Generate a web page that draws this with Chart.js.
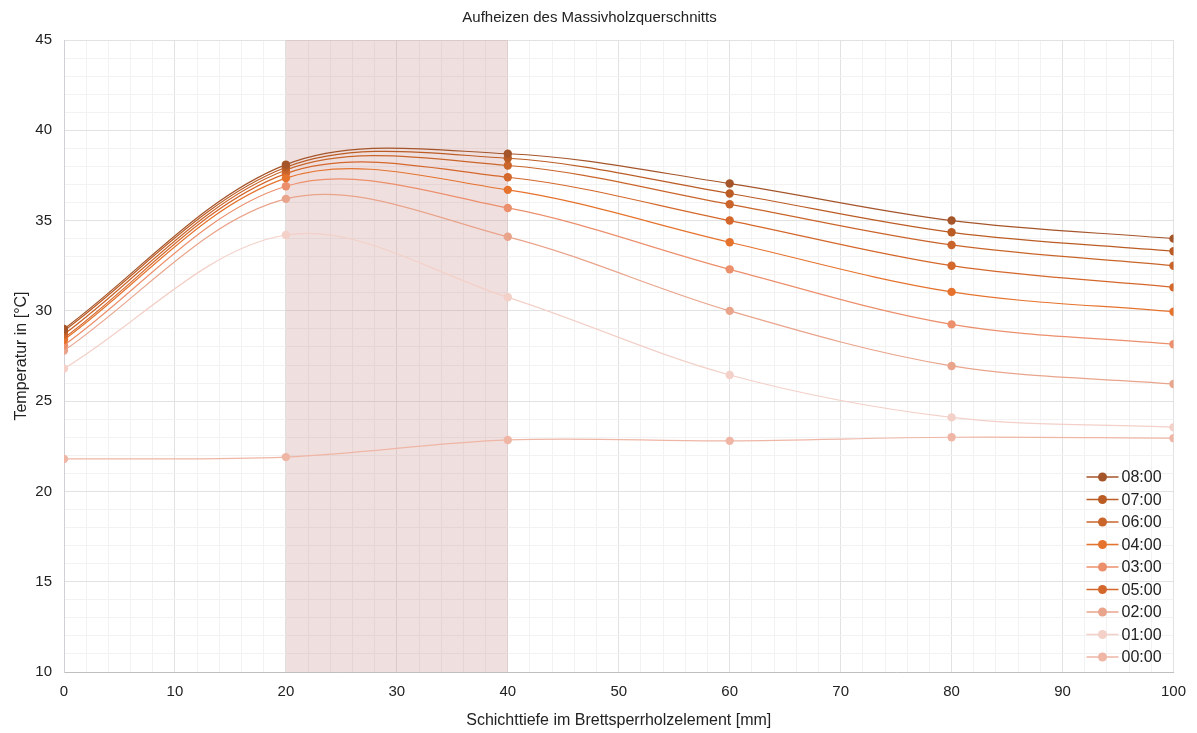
<!DOCTYPE html>
<html>
<head>
<meta charset="utf-8">
<title>Aufheizen des Massivholzquerschnitts</title>
<script src="https://cdn.jsdelivr.net/npm/chart.js@4.4.1/dist/chart.umd.min.js"></script>
<style>
  body { margin: 0; background: #fff; }
</style>
</head>
<body>
<canvas id="lineChart" width="1197" height="733"></canvas>
<script>
// Schichttiefe in mm
var depths = [0, 20, 40, 60, 80, 100];

// Messzeitpunkte (Reihenfolge wie in der Legende)
var labels = ["08:00", "07:00", "06:00", "04:00", "03:00", "05:00", "02:00", "01:00", "00:00"];

var t0800 = [29.0, 38.1, 38.7, 37.05, 35.0, 34.0];
var t0700 = [28.9, 37.95, 38.45, 36.5, 34.35, 33.3];
var t0600 = [28.7, 37.8, 38.05, 35.9, 33.65, 32.5];
var t0400 = [28.4, 37.35, 36.7, 33.8, 31.05, 29.95];
var t0300 = [28.1, 36.9, 35.7, 32.3, 29.25, 28.15];
var t0500 = [28.5, 37.6, 37.4, 35.0, 32.5, 31.3];
var t0200 = [27.8, 36.2, 34.1, 30.0, 26.95, 25.95];
var t0100 = [26.8, 34.2, 30.75, 26.45, 24.1, 23.55];
var t0000 = [21.8, 21.9, 22.85, 22.8, 23.0, 22.95];

var series = [t0800, t0700, t0600, t0400, t0300, t0500, t0200, t0100, t0000];

var colors = [
  "#a5552a", "#bb5c25", "#c9652b", "#e5732e", "#ec8f6c",
  "#d4672b", "#e9a48c", "#f3d0c8", "#efb6a6"
];

// Bereich der Brettsperrholz-Lage (schattiert)
var bandFrom = 20;
var bandTo = 40;

var fontFamily = "'Liberation Sans', Arial, sans-serif";

var datasets = series.map(function(values, i) {
  return {
    label: labels[i],
    data: values.map(function(v, k) { return { x: depths[k], y: v }; }),
    borderColor: colors[i],
    backgroundColor: colors[i],
    borderWidth: 1.2,
    pointRadius: 4.2,
    pointHoverRadius: 4.2,
    pointBorderWidth: 0,
    tension: 0.34
  };
});

const bandPlugin = {
  id: 'band',
  beforeDatasetsDraw(chart) {
    const x = chart.scales.x;
    const area = chart.chartArea;
    const c = chart.ctx;
    c.save();
    c.fillStyle = 'rgba(200, 140, 140, 0.28)';
    const x1 = x.getPixelForValue(bandFrom);
    const x2 = x.getPixelForValue(bandTo);
    c.fillRect(x1, area.top, x2 - x1, area.bottom - area.top);
    c.restore();
  }
};

// Legende innerhalb der Zeichenfläche unten rechts
const insideLegend = {
  id: 'insideLegend',
  afterDraw(chart) {
    const c = chart.ctx;
    const area = chart.chartArea;
    c.save();
    c.font = '16px ' + fontFamily;
    c.textBaseline = 'middle';
    chart.data.datasets.forEach(function(ds, i) {
      const y = area.top + 437 + i * 22.5;
      const x0 = area.right - 87;
      c.strokeStyle = ds.borderColor;
      c.lineWidth = 1.5;
      c.beginPath();
      c.moveTo(x0, y);
      c.lineTo(x0 + 32, y);
      c.stroke();
      c.fillStyle = ds.backgroundColor;
      c.beginPath();
      c.arc(x0 + 16, y, 4.5, 0, Math.PI * 2);
      c.fill();
      c.fillStyle = '#222';
      c.fillText(ds.label, x0 + 35, y + 1);
    });
    c.restore();
  }
};

const ctx = document.getElementById('lineChart');

new Chart(ctx, {
  type: 'line',
  data: { datasets: datasets },
  plugins: [bandPlugin, insideLegend],
  options: {
    responsive: false,
    animation: false,
    layout: { padding: { left: 0, right: 18, top: 0, bottom: 0 } },
    plugins: {
      legend: { display: false },
      tooltip: { enabled: false },
      title: {
        display: true,
        text: 'Aufheizen des Massivholzquerschnitts',
        color: '#222',
        font: { family: fontFamily, size: 15, weight: 'normal' },
        padding: { top: 9, bottom: 13 }
      }
    },
    scales: {
      x: {
        type: 'linear',
        min: 0,
        max: 100,
        afterFit: function(s) { s.height = 61; },
        ticks: {
          stepSize: 2,
          autoSkip: false,
          maxRotation: 0,
          padding: 11,
          color: '#222',
          font: { family: fontFamily, size: 15 },
          callback: function(v) { return v % 10 === 0 ? v : ''; }
        },
        grid: {
          drawTicks: false,
          color: function(c) { return c.tick.value % 10 === 0 ? '#e2e2e2' : '#f2f2f2'; }
        },
        border: { color: '#bfbfbf' },
        title: {
          display: true,
          text: 'Schichttiefe im Brettsperrholzelement [mm]',
          color: '#222',
          font: { family: fontFamily, size: 16 },
          padding: { top: 0, bottom: 3 }
        }
      },
      y: {
        min: 10,
        max: 45,
        afterFit: function(s) { s.width = 64; },
        ticks: {
          stepSize: 1,
          autoSkip: false,
          padding: 12,
          color: '#222',
          font: { family: fontFamily, size: 15 },
          callback: function(v) { return v % 5 === 0 ? v : ''; }
        },
        grid: {
          drawTicks: false,
          color: function(c) { return c.tick.value % 5 === 0 ? '#e2e2e2' : '#f2f2f2'; }
        },
        border: { color: '#d0d0d8' },
        title: {
          display: true,
          text: 'Temperatur in [°C]',
          color: '#222',
          font: { family: fontFamily, size: 16 },
          padding: { top: 12, bottom: 0 }
        }
      }
    }
  }
});
</script>
</body>
</html>
